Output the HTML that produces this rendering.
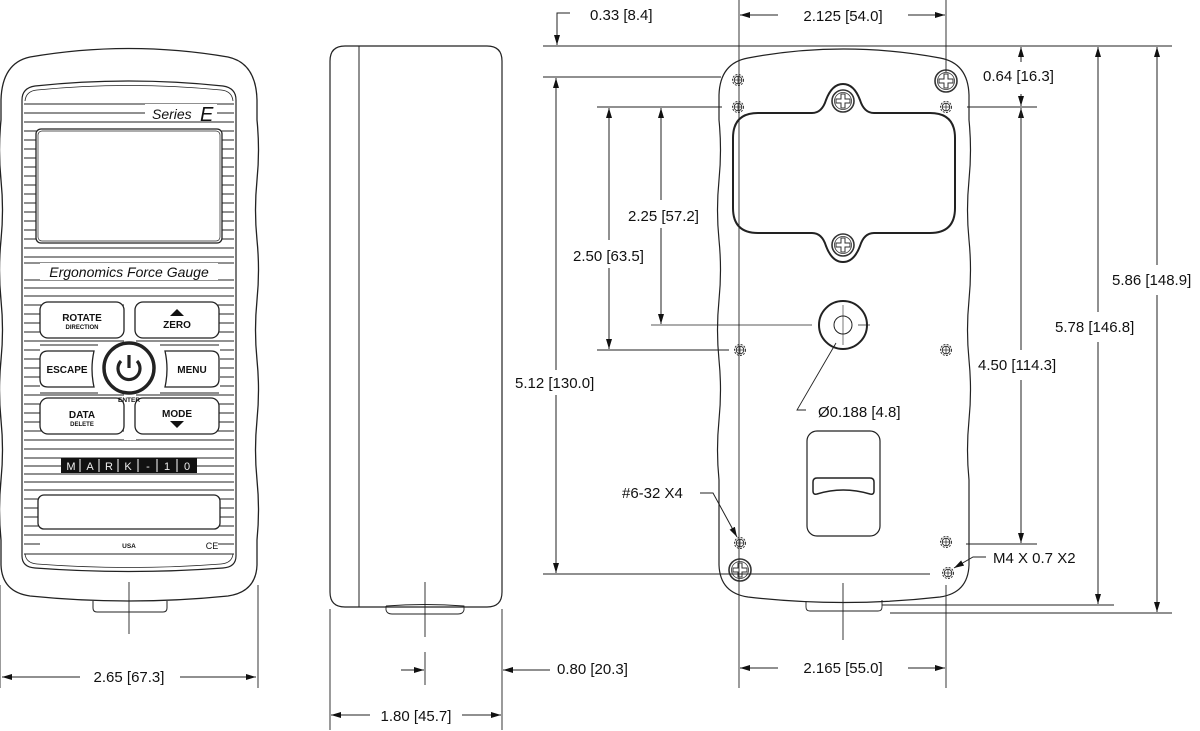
<!DOCTYPE html>
<html><head><meta charset="utf-8"><style>
html,body{margin:0;padding:0;background:#fff;width:1200px;height:731px;overflow:hidden}
svg{display:block;font-family:"Liberation Sans",sans-serif}
.d{font-size:15px;fill:#111}
</style></head><body>
<svg width="1200" height="731" viewBox="0 0 1200 731" xmlns="http://www.w3.org/2000/svg">
<defs>
<marker id="a" viewBox="0 0 10 6" refX="10" refY="3" markerWidth="10" markerHeight="6" markerUnits="userSpaceOnUse" orient="auto"><path d="M0,0 L10,3 L0,6 z" fill="#111"/></marker>
<g id="hole"><circle r="5.5" fill="#fff" stroke="#333" stroke-width="1" stroke-dasharray="2,1.3"/><circle r="3.8" fill="none" stroke="#333" stroke-width="1"/><path d="M-3.8,0H3.8M0,-3.8V3.8" stroke="#333" stroke-width="0.8"/></g>
<g id="ph"><circle r="11" fill="#fff" stroke="#333" stroke-width="1.6"/><circle r="8.5" fill="none" stroke="#333" stroke-width="0.8"/><path d="M-2,-7 h4 v5 h5 v4 h-5 v5 h-4 v-5 h-5 v-4 h5z" fill="none" stroke="#333" stroke-width="1"/></g>
</defs>
<g stroke="#222" stroke-width="1" fill="none">

<!-- ============ FRONT VIEW ============ -->
<path d="M30,57 Q129,40 228,57 Q256,63 257,100 L257,120 Q260,150 257,180 T257,240 T257,300 T257,360 T257,420 T257,480 T257,540 L257,565 Q256,592 228,596 Q129,606 30,596 Q2,592 1,565 L1,540 Q-2,510 1,480 T1,420 T1,360 T1,300 T1,240 T1,180 T1,120 L1,100 Q2,63 30,57 Z" fill="#fff" stroke-width="1.3"/>
<path d="M93,601 L93,608 Q93,612 97,612 L163,612 Q167,612 167,608 L167,601" stroke-width="1"/>
<!-- faceplate -->
<path d="M22,100 Q22,88 35,86 Q129,76 223,86 Q236,88 236,100 L236,556 Q236,567 223,568 Q129,575 35,568 Q22,567 22,556 Z" fill="#fff" stroke-width="1.2"/>
<path d="M25,101 Q26,91 37,90 Q129,81 221,90 Q232,91 233,101" stroke-width="0.8"/>
<path d="M25,554 Q26,563 37,564 Q129,571 221,564 Q232,563 233,554" stroke-width="0.8"/>
<g stroke-width="0.9">
<path d="M24,104H234M24,113H234M24,122H234M24,131H234M24,140H234M24,149H234M24,158H234M24,167H234M24,176H234M24,185H234M24,194H234M24,203H234M24,212H234M24,221H234M24,230H234M24,239H234M24,248H234M24,257H234M24,263H234M24,280H234M24,288H234M24,296H234M24,305H234M24,314H234M24,323H234M24,332H234M24,341H234M24,350H234M24,359H234M24,368H234M24,377H234M24,386H234M24,395H234M24,404H234M24,413H234M24,422H234M24,431H234M24,440H234M24,449H234M24,458H234M24,466H234M24,474H234M24,482H234M24,490H234M24,499H234M24,508H234M24,517H234M24,526H234M24,535H234M24,544H234M24,554H234"/>
</g>
<rect x="145" y="104" width="72" height="17" fill="#fff" stroke="none"/>
<text x="152" y="119" font-size="14" font-style="italic" fill="#111" stroke="none">Series</text>
<text x="200" y="121" font-size="20" font-style="italic" fill="#111" stroke="none">E</text>
<rect x="36" y="129" width="186" height="114" rx="5" fill="#fff" stroke-width="1.3"/>
<rect x="38" y="131" width="182" height="110" rx="4" stroke-width="0.7"/>
<rect x="40" y="263" width="178" height="17" fill="#fff" stroke="none"/>
<text x="129" y="277" font-size="14" font-style="italic" fill="#111" stroke="none" text-anchor="middle">Ergonomics Force Gauge</text>
<rect x="40" y="345" width="180" height="48" fill="#fff" stroke="none"/>
<rect x="124" y="300" width="12" height="140" fill="#fff" stroke="none"/>
<path d="M40,345H98M160,345H219M40,393H98M160,393H219" stroke-width="0.9"/>
<rect x="40" y="302" width="84" height="36" rx="8" fill="#fff" stroke-width="1.3"/>
<rect x="135" y="302" width="84" height="36" rx="8" fill="#fff" stroke-width="1.3"/>
<path d="M40,359 Q40,351 48,351 L94,351 Q90,369 94,387 L48,387 Q40,387 40,379 Z" fill="#fff" stroke-width="1.3"/>
<path d="M219,359 Q219,351 211,351 L165,351 Q169,369 165,387 L211,387 Q219,387 219,379 Z" fill="#fff" stroke-width="1.3"/>
<rect x="40" y="398" width="84" height="36" rx="8" fill="#fff" stroke-width="1.3"/>
<rect x="135" y="398" width="84" height="36" rx="8" fill="#fff" stroke-width="1.3"/>
<circle cx="129" cy="368" r="25" fill="#fff" stroke-width="3.5"/>
<path d="M121,361 A11,11 0 1 0 137,361" stroke-width="3.2"/>
<path d="M129,355V368" stroke-width="3.2"/>
<g fill="#111" stroke="none" font-weight="bold" text-anchor="middle">
<text x="82" y="321" font-size="10">ROTATE</text>
<text x="82" y="329" font-size="6">DIRECTION</text>
<path d="M170,316 L177,309 L184,316 Z"/>
<text x="177" y="328" font-size="10">ZERO</text>
<text x="67" y="373" font-size="10">ESCAPE</text>
<text x="192" y="373" font-size="10">MENU</text>
<text x="129" y="402" font-size="6.5">ENTER</text>
<text x="82" y="418" font-size="10">DATA</text>
<text x="82" y="426" font-size="6">DELETE</text>
<text x="177" y="417" font-size="10">MODE</text>
<path d="M170,421 L184,421 L177,428 Z"/>
</g>
<rect x="61" y="458" width="136" height="15" fill="#111" stroke="none"/>
<g fill="none" stroke="#fff" stroke-width="1">
<path d="M80,459V472M99,459V472M118,459V472M138,459V472M157,459V472M177,459V472"/>
</g>
<g fill="#eee" stroke="none" font-size="11" text-anchor="middle">
<text x="71" y="470">M</text><text x="90" y="470">A</text><text x="109" y="470">R</text><text x="128" y="470">K</text><text x="148" y="470">-</text><text x="167" y="470">1</text><text x="187" y="470">0</text>
</g>
<rect x="38" y="495" width="182" height="34" rx="6" fill="#fff" stroke-width="1.3"/>
<rect x="40" y="537" width="178" height="16" fill="#fff" stroke="none"/>
<text x="129" y="548" font-size="6.5" font-weight="bold" fill="#111" stroke="none" text-anchor="middle">USA</text>
<text x="212" y="549" font-size="9" fill="#111" stroke="none" text-anchor="middle">CE</text>
<path d="M129,582V634" stroke-width="0.9"/>
<path d="M0,585V688M258,585V688" stroke-width="0.9"/>
<path d="M80,677H2" marker-end="url(#a)"/><path d="M180,677H256" marker-end="url(#a)"/>

<!-- ============ SIDE VIEW ============ -->
<path d="M345,46 L487,46 Q502,46 502,61 L502,592 Q502,607 487,607 L345,607 Q330,607 330,592 L330,61 Q330,46 345,46 Z" fill="#fff" stroke-width="1.2"/>
<path d="M359,46V607" stroke-width="1"/>
<path d="M386,606 L386,610 Q387,614 392,614 L458,614 Q463,614 464,610 L464,606 Q425,603 386,606" stroke-width="0.9"/>
<path d="M425,582V637M425,652V685" stroke-width="0.9"/>
<path d="M330,609V730M502,609V730" stroke-width="0.9"/>
<path d="M401,670H424" marker-end="url(#a)"/>
<path d="M550,670H503" marker-end="url(#a)"/>
<path d="M370,715H331" marker-end="url(#a)"/><path d="M462,715H501" marker-end="url(#a)"/>

<!-- ============ BACK VIEW ============ -->
<path d="M748,58 Q843,40 940,58 Q968,63 969,95 L969,120 Q972,150 969,180 T969,240 T969,300 T969,360 T969,420 T969,480 L969,565 Q968,593 940,597 Q843,608 748,597 Q720,593 719,565 L719,480 Q716,450 719,420 T719,360 T719,300 T719,240 T719,180 T719,120 L719,95 Q720,63 748,58 Z" fill="#fff" stroke-width="1.2"/>
<path d="M806,601 L806,607 Q806,611 810,611 L878,611 Q882,611 882,607 L882,600" stroke-width="0.9"/>
<path d="M758,113 L812,113 Q822,113 826,100 Q832,84 843,84 Q854,84 860,100 Q864,113 874,113 L930,113 Q955,113 955,138 L955,208 Q955,233 930,233 L874,233 Q864,233 860,246 Q854,262 843,262 Q832,262 826,246 Q822,233 812,233 L758,233 Q733,233 733,208 L733,138 Q733,113 758,113 Z" fill="#fff" stroke-width="2"/>
<use href="#ph" x="843" y="101"/><use href="#ph" x="843" y="245"/>
<use href="#ph" x="946" y="81"/><use href="#ph" x="740" y="570"/>
<use href="#hole" x="738" y="80"/><use href="#hole" x="738" y="107"/><use href="#hole" x="946" y="107"/>
<use href="#hole" x="740" y="350"/><use href="#hole" x="946" y="350"/>
<use href="#hole" x="740" y="543"/><use href="#hole" x="946" y="542"/><use href="#hole" x="948" y="573"/>
<circle cx="843" cy="325" r="24" fill="#fff" stroke-width="2"/>
<circle cx="843" cy="325" r="9" stroke-width="1"/>
<rect x="807" y="431" width="73" height="105" rx="10" fill="#fff" stroke-width="1.2"/>
<path d="M817,478 L870,478 Q874,478 874,482 L874,491 Q874,495 870,494 Q843,486 817,494 Q813,495 813,491 L813,482 Q813,478 817,478 Z" stroke-width="1.5"/>
<path d="M739,0V688" stroke-width="0.9"/>
<path d="M946,0V72M946,585V688" stroke-width="0.9"/>
<path d="M843,583V640" stroke-width="0.9"/>
<path d="M651,325H812M858,325H870" stroke-width="0.8"/>
<path d="M843,305V345" stroke-width="0.6"/>
<path d="M543,46H1172" stroke-width="0.9"/>
<path d="M543,77H721" stroke-width="0.9"/>
<path d="M597,107H722M967,107H1037" stroke-width="0.9"/>
<path d="M597,350H729" stroke-width="0.9"/>
<path d="M543,574H930" stroke-width="0.9"/>
<path d="M966,544H1037" stroke-width="0.9"/>
<path d="M882,605H1114" stroke-width="0.9"/>
<path d="M890,613H1172" stroke-width="0.9"/>
<path d="M570,13H557V45" marker-end="url(#a)"/>
<path d="M556,370V78" marker-end="url(#a)"/><path d="M556,395V573" marker-end="url(#a)"/>
<path d="M609,240V108" marker-end="url(#a)"/><path d="M609,268V349" marker-end="url(#a)"/>
<path d="M661,200V108" marker-end="url(#a)"/><path d="M661,228V324" marker-end="url(#a)"/>
<path d="M778,15H740" marker-end="url(#a)"/><path d="M908,15H945" marker-end="url(#a)"/>
<path d="M778,668H740" marker-end="url(#a)"/><path d="M908,668H945" marker-end="url(#a)"/>
<path d="M1021,62V47" marker-end="url(#a)"/><path d="M1021,94V106" marker-end="url(#a)"/>
<path d="M1021,118V108" marker-end="url(#a)"/><path d="M1021,350V108"/><path d="M1021,380V543" marker-end="url(#a)"/>
<path d="M1098,312V47" marker-end="url(#a)"/><path d="M1098,342V604" marker-end="url(#a)"/>
<path d="M1157,265V47" marker-end="url(#a)"/><path d="M1157,295V612" marker-end="url(#a)"/>
<path d="M806,410H797L836,343" stroke-width="0.9"/>
<path d="M700,493H713L737,537" marker-end="url(#a)"/>
<path d="M986,557H973L954,568" marker-end="url(#a)"/>
</g>

<g class="d">
<text x="129" y="682" text-anchor="middle">2.65 [67.3]</text>
<text x="416" y="721" text-anchor="middle">1.80 [45.7]</text>
<text x="557" y="674">0.80 [20.3]</text>
<text x="590" y="20">0.33 [8.4]</text>
<text x="843" y="21" text-anchor="middle">2.125 [54.0]</text>
<text x="843" y="673" text-anchor="middle">2.165 [55.0]</text>
<text x="983" y="81">0.64 [16.3]</text>
<text x="1112" y="285">5.86 [148.9]</text>
<text x="1055" y="332">5.78 [146.8]</text>
<text x="978" y="370">4.50 [114.3]</text>
<text x="515" y="388">5.12 [130.0]</text>
<text x="573" y="261">2.50 [63.5]</text>
<text x="628" y="221">2.25 [57.2]</text>
<text x="818" y="417">Ø0.188 [4.8]</text>
<text x="622" y="498">#6-32 X4</text>
<text x="993" y="563">M4 X 0.7 X2</text>
</g>
</svg>
</body></html>
